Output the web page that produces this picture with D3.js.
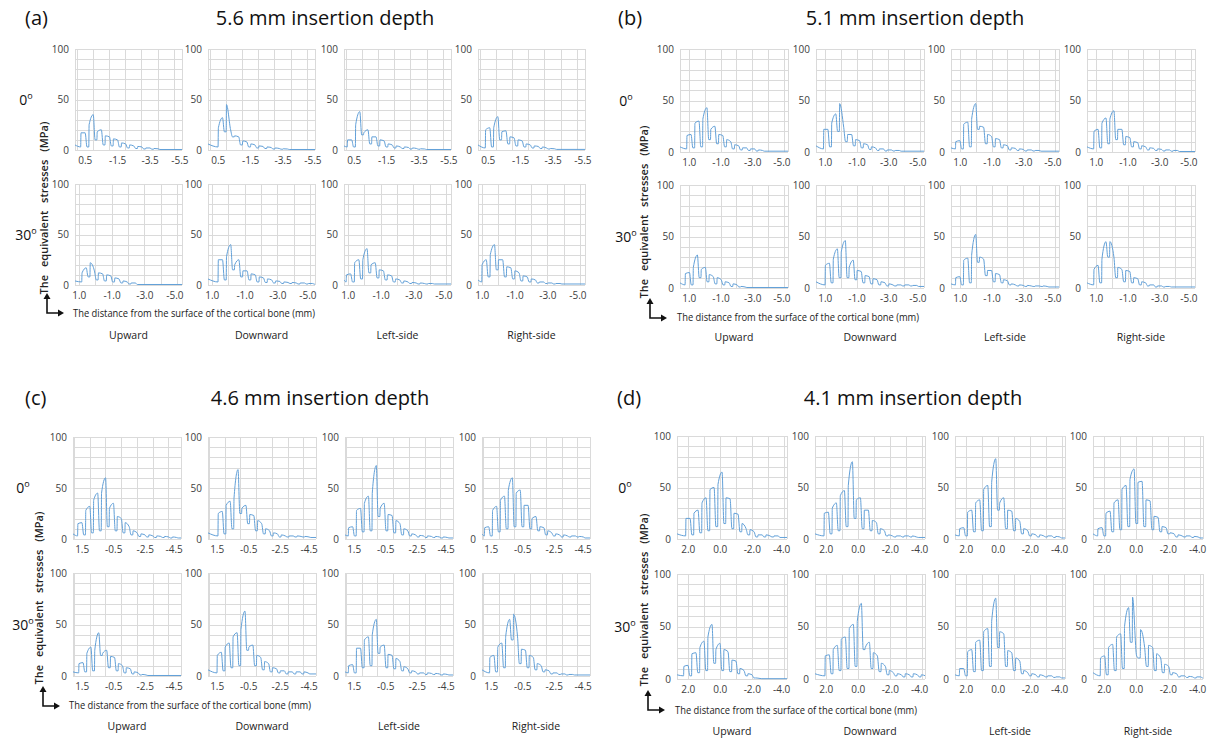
<!DOCTYPE html>
<html>
<head>
<meta charset="utf-8">
<script src="https://cdn.jsdelivr.net/npm/d3@7"></script>
<style>
  body { margin: 0; background: #fff; }
  svg text { font-family: 'Open Sans', sans-serif; }
</style>
</head>
<body>
<svg id="chart" width="1215" height="740"></svg>
<script>
// thread pitch of the mini-implant (mm)
const PITCH = 0.5;

const panelLetters = ['(a)', '(b)', '(c)', '(d)'];
const depthTitles = ['5.6 mm insertion depth', '5.1 mm insertion depth', '4.6 mm insertion depth', '4.1 mm insertion depth'];
const sides = ['Upward', 'Downward', 'Left-side', 'Right-side'];
const angles = ['0', '30'];
const yTicks = [0, 50, 100];

// x tick labels, one list per row (0 deg, 30 deg)
const xTicksA = [[0.5, -1.5, -3.5, -5.5], [1.0, -1.0, -3.0, -5.0]];
const xTicksB = [[1.0, -1.0, -3.0, -5.0], [1.0, -1.0, -3.0, -5.0]];
const xTicksC = [[1.5, -0.5, -2.5, -4.5], [1.5, -0.5, -2.5, -4.5]];
const xTicksD = [[2.0, 0.0, -2.0, -4.0], [2.0, 0.0, -2.0, -4.0]];
const xDomainA = [[1.1, -5.5], [1.23, -5.3]];
const xDomainB = [[1.55, -5.25], [1.55, -5.25]];
const xDomainC = [[2.05, -4.8], [2.05, -4.8]];
const xDomainD = [[2.67, -4.2], [2.67, -4.2]];

// stress curves (MPa). first row: [x of first thread, value at left edge, value before first thread]
// then one row per thread: [value after rise, value at end of crest, value in the root after it]
const a0Up = [[0.75, 5, 3], [17, 17, 3], [25, 35, 10], [18, 20, 5], [14, 13, 4], [11, 10, 3], [7, 6, 2], [5, 4, 1.5], [3.5, 3, 1], [2, 2, 0.8], [1.5, 1.2, 0.5]];
const a0Down = [[0.48, 6, 3], [22, 32, 18], [45, 20, 13], [14, 13, 5], [9, 8, 3], [6, 5, 2], [4, 3.5, 1.5], [3, 2.5, 1], [2, 1.5, 0.8], [1.2, 1, 0.5]];
const a0Left = [[0.9, 4, 3], [10, 10, 3], [25, 38, 15], [17, 20, 6], [13, 13, 4], [10, 9, 3], [6, 5, 2], [4, 3, 1.5], [3, 2.5, 1], [2, 1.5, 0.8], [1.2, 1, 0.5]];
const a0Right = [[0.65, 5, 2], [20, 22, 3], [22, 33, 10], [18, 19, 6], [13, 12, 4], [10, 9, 3], [6, 5, 2], [4, 3.5, 1.5], [3, 2, 1], [1.5, 1.2, 0.6]];
const a30Up = [[0.82, 4, 3], [12, 17, 8], [22, 14, 5], [12, 11, 4], [10, 9, 3], [7, 6, 2], [4, 3, 1], [2, 2, 0.5]];
const a30Down = [[0.62, 6, 3], [25, 25, 5], [28, 40, 15], [20, 25, 8], [14, 14, 5], [11, 10, 3], [8, 7, 2.5], [6, 5, 2], [4, 3.5, 1.5], [3, 2.5, 1.5], [2.5, 2, 1], [2, 2, 1], [1.5, 1.5, 0.8]];
const a30Left = [[1.1, 5, 3], [10, 11, 3], [22, 25, 6], [25, 36, 12], [20, 22, 7], [15, 14, 5], [10, 9, 3], [6, 5, 2], [4, 3, 1.5], [2.5, 2, 1], [2, 1.5, 1], [1.5, 1.5, 1]];
const a30Right = [[1.0, 5, 3], [20, 25, 8], [30, 40, 15], [25, 25, 8], [18, 17, 6], [14, 12, 4], [9, 8, 3], [6, 5, 2], [3, 3, 1.5], [2, 2, 1], [1.5, 1.5, 1]];

const b0Up = [[1.13, 5, 3], [16, 17, 4], [28, 30, 5], [32, 43, 12], [22, 25, 8], [17, 16, 5], [12, 10, 3], [7, 6, 2], [4, 4, 1.5], [3, 3, 1], [2, 1.5, 0.8]];
const b0Down = [[1.08, 6, 3], [22, 22, 5], [28, 37, 20], [47, 24, 10], [17, 17, 6], [12, 11, 4], [8, 7, 2.5], [5, 4, 1.5], [3, 3, 1], [2, 2, 1], [1.5, 1.5, 0.8]];
const b0Left = [[1.27, 4, 3], [10, 11, 3], [27, 29, 5], [32, 47, 22], [25, 24, 8], [17, 15, 5], [13, 12, 4], [7, 6, 2], [4, 3.5, 1.5], [3, 2.5, 1], [2, 2, 1], [1.5, 1.5, 0.8]];
const b0Right = [[1.13, 5, 3], [20, 22, 4], [28, 33, 8], [32, 40, 12], [22, 22, 7], [15, 14, 5], [10, 9, 3], [6, 5, 2], [4, 3.5, 1.5], [3, 2.5, 1], [2, 2, 0.8], [1.5, 1.5, 0.5]];
const b30Up = [[1.23, 5, 3], [14, 15, 3], [20, 32, 10], [18, 20, 6], [13, 11, 4], [10, 8, 3], [6, 5, 1.5], [4, 3, 1], [1.5, 1, 0.5]];
const b30Down = [[0.98, 6, 3], [22, 24, 5], [28, 38, 10], [35, 46, 10], [20, 27, 8], [17, 16, 5], [12, 11, 4], [9, 8, 3], [6, 5, 2], [4, 3, 2], [3, 3, 2], [3, 3, 2], [2.5, 2.5, 1.5]];
const b30Left = [[1.27, 4, 3], [10, 11, 3], [27, 29, 5], [32, 52, 25], [30, 28, 12], [17, 17, 6], [14, 13, 5], [8, 7, 3], [4, 3, 2], [3, 2.5, 1.5], [2.5, 2, 1.5], [2, 2, 1.5], [2, 1.5, 1]];
const b30Right = [[1.13, 5, 3], [18, 22, 5], [28, 45, 30], [45, 30, 10], [20, 18, 6], [17, 16, 5], [10, 9, 3], [6, 5, 2], [3, 3, 1], [2, 2, 1], [1.5, 1.5, 1]];

const c0Up = [[1.76, 5, 3], [15, 16, 4], [28, 32, 6], [38, 45, 8], [45, 60, 12], [30, 35, 8], [22, 20, 6], [16, 12, 4], [8, 6, 2.5], [5, 4, 2], [4, 3, 1.5], [3, 2.5, 1.5], [2.5, 2, 1], [2, 1.5, 1]];
const c0Down = [[1.42, 6, 3], [25, 27, 5], [33, 37, 10], [40, 68, 25], [30, 33, 15], [24, 23, 8], [18, 15, 5], [10, 8, 3], [6, 5, 2], [4, 3, 2], [3, 3, 2], [3, 2.5, 2], [2.5, 2, 1.5]];
const c0Left = [[1.84, 4, 3], [11, 12, 3], [28, 30, 7], [35, 42, 8], [45, 72, 22], [30, 35, 8], [24, 23, 6], [18, 15, 4], [10, 8, 3], [5, 4, 2], [3.5, 3, 1.5], [3, 2.5, 1.5], [2.5, 2, 1], [2, 1.5, 1]];
const c0Right = [[1.9, 5, 3], [11, 12, 3], [28, 32, 7], [38, 42, 10], [48, 60, 12], [45, 48, 12], [33, 33, 10], [20, 22, 8], [12, 11, 4], [8, 6, 3], [5, 4, 2], [4, 3, 2], [3, 3, 2], [2.5, 2, 1]];
const c30Up = [[1.69, 4, 3], [12, 13, 4], [22, 28, 5], [25, 42, 20], [22, 25, 8], [19, 18, 5], [12, 10, 3], [8, 7, 2], [4, 3, 1], [1.5, 1, 0.5]];
const c30Down = [[1.48, 6, 3], [20, 23, 5], [28, 32, 8], [38, 42, 10], [45, 63, 25], [28, 30, 10], [20, 18, 6], [14, 12, 4], [8, 7, 3], [5, 5, 2], [4, 4, 2], [4, 4, 2], [4, 3, 2]];
const c30Left = [[1.84, 4, 3], [10, 11, 3], [27, 27, 8], [35, 38, 10], [40, 55, 22], [28, 30, 8], [21, 20, 7], [17, 14, 5], [9, 7, 3], [5, 4, 2], [3, 3, 1.5], [3, 2.5, 1.5], [2.5, 2, 1], [2, 1.5, 1]];
const c30Right = [[1.57, 6, 3], [18, 20, 4], [28, 32, 8], [38, 55, 35], [60, 38, 12], [26, 25, 8], [20, 18, 6], [12, 10, 4], [6, 5, 2], [3, 3, 1.5], [2, 2, 1], [1.5, 1.5, 1]];

const d0Up = [[2.13, 5, 3], [20, 20, 4], [25, 28, 6], [35, 40, 8], [48, 50, 12], [53, 65, 15], [40, 39, 10], [25, 24, 7], [15, 10, 4], [9, 7, 2], [4, 4, 2], [4, 3, 2], [3, 3, 1.5]];
const d0Down = [[2.11, 5, 3], [25, 26, 5], [30, 35, 8], [42, 47, 12], [52, 75, 20], [38, 40, 10], [28, 28, 8], [18, 16, 5], [10, 8, 3], [4, 3, 2], [3, 3, 2], [3, 3, 2], [3, 2, 1.5]];
const d0Left = [[2.4, 4, 3], [10, 11, 3], [26, 28, 7], [35, 38, 8], [48, 52, 12], [55, 78, 28], [35, 40, 10], [28, 27, 8], [20, 17, 5], [10, 8, 3], [5, 4, 2], [4, 3, 2], [3, 3, 1.5], [2.5, 2, 1]];
const d0Right = [[2.38, 5, 3], [10, 11, 3], [25, 27, 7], [35, 38, 9], [48, 52, 12], [58, 68, 15], [55, 56, 12], [38, 37, 9], [22, 21, 7], [12, 11, 5], [6, 5, 2], [4, 3, 2], [3, 3, 1.5], [2.5, 2, 1]];
const d30Up = [[2.26, 4, 3], [12, 13, 3], [24, 25, 6], [30, 36, 8], [40, 52, 15], [28, 34, 8], [28, 26, 7], [18, 17, 5], [10, 8, 3], [5, 4, 1], [1, 0.5, 0.3]];
const d30Down = [[2.05, 5, 3], [22, 23, 5], [28, 32, 8], [38, 40, 10], [48, 52, 12], [55, 72, 28], [30, 35, 10], [25, 22, 7], [15, 12, 4], [8, 6, 3], [5, 4, 2], [5, 4, 2], [5, 4, 2], [4, 3, 2]];
const d30Left = [[2.4, 4, 3], [10, 10, 3], [26, 28, 7], [35, 37, 8], [45, 48, 12], [55, 77, 30], [45, 43, 12], [27, 25, 8], [20, 17, 5], [8, 6, 3], [5, 4, 2], [4, 3, 2], [3, 3, 1.5], [2, 2, 1]];
const d30Right = [[2.22, 6, 3], [20, 22, 4], [30, 33, 8], [40, 43, 10], [50, 68, 35], [78, 22, 20], [47, 30, 12], [32, 30, 8], [24, 20, 6], [14, 12, 4], [6, 5, 2], [3, 3, 1.5], [2.5, 2, 1], [2, 2, 1]];

// layout of the four panels
const panels = [
  {
    letterX: 25, titleX: 325, titleY: 25,
    cols: [75, 208, 344, 478], width: 107, rows: [[49, 150], [184, 285]],
    angleX: 26, yLabel: [48, 208], arrow: [47, 313, 73, 317], sideY: 339,
    ticks: xTicksA, domains: xDomainA,
    charts: [[a0Up, a0Down, a0Left, a0Right], [a30Up, a30Down, a30Left, a30Right]],
  },
  {
    letterX: 618, titleX: 915, titleY: 25,
    cols: [680, 816, 951, 1087], width: 108, rows: [[49, 152], [185, 288]],
    angleX: 626, yLabel: [648, 212], arrow: [650, 318, 677, 321], sideY: 341,
    ticks: xTicksB, domains: xDomainB,
    charts: [[b0Up, b0Down, b0Left, b0Right], [b30Up, b30Down, b30Left, b30Right]],
  },
  {
    letterX: 25, titleX: 320, titleY: 405,
    cols: [73, 208, 345, 482], width: 108, rows: [[437, 539], [573, 676]],
    angleX: 23, yLabel: [43, 598], arrow: [43, 706, 69, 709], sideY: 730,
    ticks: xTicksC, domains: xDomainC,
    charts: [[c0Up, c0Down, c0Left, c0Right], [c30Up, c30Down, c30Left, c30Right]],
  },
  {
    letterX: 617, titleX: 913, titleY: 405,
    cols: [677, 815, 955, 1093], width: 110, rows: [[436, 539], [574, 679]],
    angleX: 625, yLabel: [648, 600], arrow: [648, 710, 675, 714], sideY: 735,
    ticks: xTicksD, domains: xDomainD,
    charts: [[d0Up, d0Down, d0Left, d0Right], [d30Up, d30Down, d30Left, d30Right]],
  },
];

const svg = d3.select('#chart');
const defs = svg.append('defs');
let clipId = 0;

// turn the per-thread values into vertices of the stress curve
function curvePoints(spec, domain) {
  const [xs, y0, yPre] = spec[0];
  const pts = [[domain[0], y0]];
  let prev = yPre;
  spec.slice(1).forEach((t, i) => {
    const s = xs - i * PITCH;
    pts.push([s, prev]);
    pts.push([s - 0.04 * PITCH, t[0]]);
    pts.push([s - 0.55 * PITCH, t[1]]);
    pts.push([s - 0.78 * PITCH, t[2]]);
    prev = t[2];
  });
  pts.push([domain[1], prev]);
  return pts;
}

function drawChart(left, top, bottom, w, spec, domain, ticks) {
  const g = svg.append('g').attr('transform', `translate(${left},${top})`);
  const h = bottom - top;
  const x = d3.scaleLinear().domain(domain).range([0, w]);
  const y = d3.scaleLinear().domain([0, 100]).range([h, 0]);

  // gridlines
  g.append('g')
    .selectAll('line')
    .data(d3.range(0, 101, 10))
    .join('line')
    .attr('x1', 0).attr('x2', w)
    .attr('y1', (d) => Math.round(y(d)) + 0.5)
    .attr('y2', (d) => Math.round(y(d)) + 0.5)
    .attr('stroke', '#dadada');
  const vGrid = d3.range(Math.floor(domain[0]), domain[1], -1);
  g.append('g')
    .selectAll('line')
    .data(vGrid.concat(domain))
    .join('line')
    .attr('x1', (d) => Math.round(x(d)) + 0.5)
    .attr('x2', (d) => Math.round(x(d)) + 0.5)
    .attr('y1', 0).attr('y2', h)
    .attr('stroke', '#dadada');

  // axes
  const xAxis = g.append('g')
    .attr('transform', `translate(0,${h})`)
    .call(d3.axisBottom(x).tickValues(ticks).tickSize(0).tickPadding(7).tickFormat((d) => d.toFixed(1)));
  const yAxis = g.append('g')
    .call(d3.axisLeft(y).tickValues(yTicks).tickSize(0).tickPadding(6));
  [xAxis, yAxis].forEach((a) => {
    a.select('.domain').remove();
    a.selectAll('text').attr('fill', '#404040').style('font-size', '10px');
  });
  // last label is kept inside the plot edge
  xAxis.selectAll('.tick:last-of-type text').attr('text-anchor', 'end').attr('dx', '0.6em');

  // stress curve
  const id = 'clip' + clipId++;
  defs.append('clipPath').attr('id', id)
    .append('rect').attr('x', 0).attr('y', -2).attr('width', w).attr('height', h + 4);
  const line = d3.line()
    .x((d) => x(d[0]))
    .y((d) => y(d[1]))
    .curve(d3.curveMonotoneX);
  g.append('path')
    .attr('clip-path', `url(#${id})`)
    .attr('d', line(curvePoints(spec, domain)))
    .attr('fill', 'none')
    .attr('stroke', '#62a0d8')
    .attr('stroke-width', 1)
    .attr('stroke-linejoin', 'round');
}

panels.forEach((p, pi) => {
  svg.append('text')
    .attr('x', p.letterX).attr('y', p.titleY)
    .style('font-size', '20px').attr('fill', '#111')
    .text(panelLetters[pi]);
  svg.append('text')
    .attr('x', p.titleX).attr('y', p.titleY)
    .attr('text-anchor', 'middle')
    .style('font-size', '20px').attr('fill', '#111')
    .text(depthTitles[pi]);

  p.rows.forEach(([top, bottom], ri) => {
    // angle label with degree sign
    const t = svg.append('text')
      .attr('x', p.angleX).attr('y', (top + bottom) / 2 + 5)
      .attr('text-anchor', 'middle')
      .style('font-size', '14px').attr('fill', '#111');
    t.append('tspan').text(angles[ri]);
    t.append('tspan').attr('dy', -6).style('font-size', '9px').text('o');

    p.cols.forEach((left, ci) => {
      drawChart(left, top, bottom, p.width, p.charts[ri][ci], p.domains[ri], p.ticks[ri]);
    });
  });

  // y axis title
  svg.append('text')
    .attr('transform', `translate(${p.yLabel[0]},${p.yLabel[1]}) rotate(-90)`)
    .attr('text-anchor', 'middle')
    .style('font-size', '11px').style('font-weight', 600).style('word-spacing', '5px')
    .attr('fill', '#222')
    .text('The equivalent stresses (MPa)');

  // corner arrow and x axis title
  const [ax, ay, tx, ty] = p.arrow;
  const arrow = svg.append('g').attr('stroke', '#111').attr('stroke-width', 1.6).attr('fill', 'none');
  arrow.append('path').attr('d', `M${ax},${ay - 15} L${ax},${ay} L${ax + 12},${ay}`);
  svg.append('path').attr('d', `M${ax - 3.5},${ay - 14} L${ax},${ay - 20} L${ax + 3.5},${ay - 14} Z`).attr('fill', '#111');
  svg.append('path').attr('d', `M${ax + 11},${ay - 3.5} L${ax + 17},${ay} L${ax + 11},${ay + 3.5} Z`).attr('fill', '#111');
  svg.append('text')
    .attr('x', tx).attr('y', ty)
    .attr('textLength', 242).attr('lengthAdjust', 'spacingAndGlyphs')
    .style('font-size', '10px').attr('fill', '#222')
    .text('The distance from the surface of the cortical bone (mm)');

  // side labels below columns
  p.cols.forEach((left, ci) => {
    svg.append('text')
      .attr('x', left + p.width / 2).attr('y', p.sideY)
      .attr('text-anchor', 'middle')
      .style('font-size', '10.5px').attr('fill', '#222')
      .text(sides[ci]);
  });
});
</script>
</body>
</html>
